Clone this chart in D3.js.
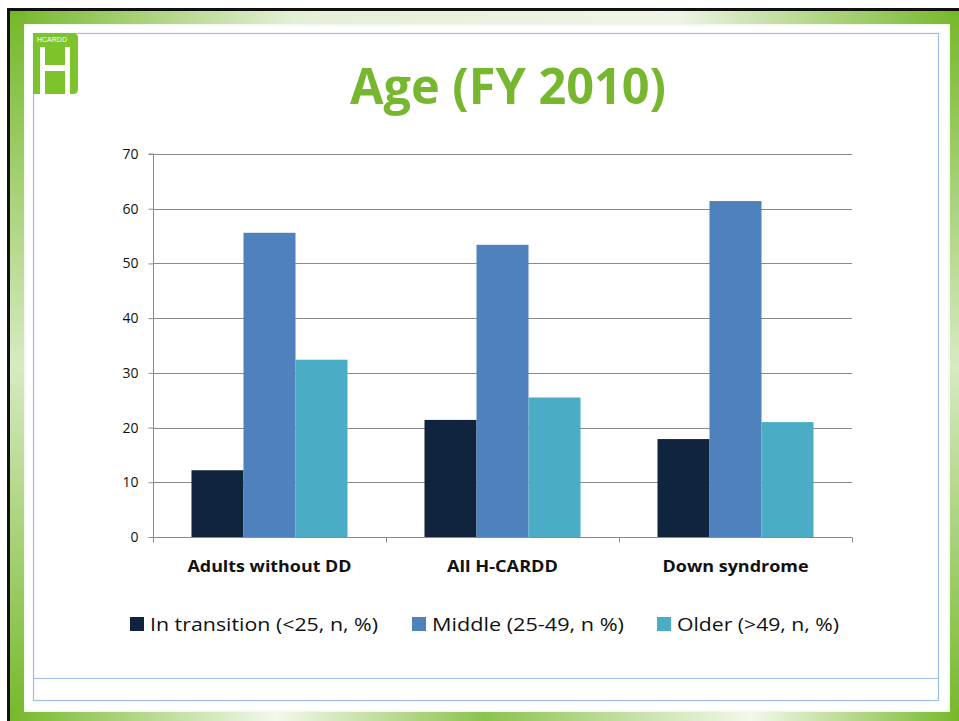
<!DOCTYPE html>
<html>
<head>
<meta charset="utf-8">
<script src="https://cdn.jsdelivr.net/npm/d3@7"></script>
<style>
  body { margin: 0; background: #fff; }
  svg { display: block; font-family: "Open Sans", sans-serif; }
</style>
</head>
<body>
<svg id="chart" width="959" height="721"></svg>
<script>
// chart data
var categories = ["Adults without DD", "All H-CARDD", "Down syndrome"];
var series = ["In transition (<25, n, %)", "Middle (25-49, n %)", "Older (>49, n, %)"];
var transition = [12.2, 21.4, 17.9];
var middle = [55.6, 53.4, 61.4];
var older = [32.4, 25.5, 21.0];
var yTicks = [0, 10, 20, 30, 40, 50, 60, 70];
var colors = ["#10243e", "#4f81bd", "#4bacc6"];

var values = [transition, middle, older];
var rows = categories.map(function(c, i) {
  return { cat: c, vals: series.map(function(s, j) { return { key: s, v: values[j][i] }; }) };
});

var svg = d3.select("#chart");
var defs = svg.append("defs");

// slide frame
var gTop = defs.append("linearGradient").attr("id", "gTop").attr("x1", 0).attr("x2", 1).attr("y1", 0).attr("y2", 0);
gTop.append("stop").attr("offset", "0%").attr("stop-color", "#76b82a");
gTop.append("stop").attr("offset", "30%").attr("stop-color", "#e4f0d6");
gTop.append("stop").attr("offset", "70%").attr("stop-color", "#eef5e6");
gTop.append("stop").attr("offset", "100%").attr("stop-color", "#76b82a");
var gSide = defs.append("linearGradient").attr("id", "gSide").attr("x1", 0).attr("x2", 0).attr("y1", 0).attr("y2", 1);
gSide.append("stop").attr("offset", "0%").attr("stop-color", "#76b82a");
gSide.append("stop").attr("offset", "50%").attr("stop-color", "#d7eac2");
gSide.append("stop").attr("offset", "100%").attr("stop-color", "#76b82a");
var gBot = defs.append("linearGradient").attr("id", "gBot").attr("x1", 0).attr("x2", 1).attr("y1", 0).attr("y2", 0);
gBot.append("stop").attr("offset", "0%").attr("stop-color", "#76b82a");
gBot.append("stop").attr("offset", "28%").attr("stop-color", "#f2f8ec");
gBot.append("stop").attr("offset", "50%").attr("stop-color", "#8cc34d");
gBot.append("stop").attr("offset", "78%").attr("stop-color", "#f2f8ec");
gBot.append("stop").attr("offset", "100%").attr("stop-color", "#76b82a");

svg.append("rect").attr("x", 7).attr("y", 8).attr("width", 952).attr("height", 713).attr("fill", "#111");
svg.append("rect").attr("x", 10).attr("y", 11).attr("width", 949).attr("height", 710).attr("fill", "url(#gTop)");
svg.append("rect").attr("x", 10).attr("y", 11).attr("width", 16).attr("height", 710).attr("fill", "url(#gSide)");
svg.append("rect").attr("x", 948).attr("y", 11).attr("width", 11).attr("height", 710).attr("fill", "url(#gSide)");
svg.append("rect").attr("x", 10).attr("y", 709).attr("width", 949).attr("height", 12).attr("fill", "url(#gBot)");
svg.append("rect").attr("x", 24).attr("y", 24).attr("width", 926).attr("height", 688).attr("fill", "#f4f9ef");
svg.append("rect").attr("x", 26).attr("y", 26).attr("width", 922).attr("height", 684).attr("fill", "#fff");
svg.append("rect").attr("x", 33.5).attr("y", 33.5).attr("width", 905).attr("height", 667)
  .attr("fill", "none").attr("stroke", "#9ebde8").attr("stroke-width", 1.2);
svg.append("line").attr("x1", 33.5).attr("x2", 938.5).attr("y1", 678.5).attr("y2", 678.5)
  .attr("stroke", "#9ebde8").attr("stroke-width", 1.2);

// logo
var logo = svg.append("g").attr("transform", "translate(33,33)");
logo.append("path").attr("d", "M0,0 H40 Q45,0 45,5 V56 Q45,61 40,61 H0 Z").attr("fill", "#7dc42c");
logo.append("text").attr("x", 4).attr("y", 9).attr("font-size", 7).attr("fill", "#fff")
  .attr("font-family", "Liberation Sans, sans-serif").text("HCARDD");
logo.append("rect").attr("x", 7).attr("y", 14).attr("width", 5).attr("height", 47).attr("fill", "#fff");
logo.append("rect").attr("x", 32).attr("y", 14).attr("width", 5).attr("height", 47).attr("fill", "#fff");
logo.append("rect").attr("x", 12).attr("y", 32).attr("width", 20).attr("height", 6).attr("fill", "#fff");

// title
svg.append("text").attr("x", 350).attr("y", 104)
  .attr("font-size", 51).attr("font-weight", 700).attr("fill", "#77b72f")
  .attr("textLength", 316).attr("lengthAdjust", "spacingAndGlyphs")
  .text("Age (FY 2010)");

// scales
var x0 = d3.scaleBand().domain(categories).range([153, 852]).paddingInner(0).paddingOuter(0);
var x1 = d3.scaleBand().domain(series).range([0, x0.bandwidth()]).paddingInner(0).paddingOuter(0.74);
var y = d3.scaleLinear().domain([0, 70]).range([537, 154]);
var color = d3.scaleOrdinal().domain(series).range(colors);

// gridlines
svg.append("g").selectAll("line").data(yTicks.filter(function(d) { return d > 0; })).enter()
  .append("line")
  .attr("x1", 153).attr("x2", 852)
  .attr("y1", function(d) { return Math.round(y(d)) + 0.5; })
  .attr("y2", function(d) { return Math.round(y(d)) + 0.5; })
  .attr("stroke", "#8a8a8a").attr("stroke-width", 1);

// bars
var groups = svg.append("g").selectAll("g").data(rows).enter().append("g")
  .attr("transform", function(d) { return "translate(" + x0(d.cat) + ",0)"; });
groups.selectAll("rect").data(function(d) { return d.vals; }).enter().append("rect")
  .attr("x", function(d) { return x1(d.key); })
  .attr("width", x1.bandwidth())
  .attr("y", function(d) { return y(d.v); })
  .attr("height", function(d) { return y(0) - y(d.v); })
  .attr("fill", function(d) { return color(d.key); });

// y axis
var yAxis = svg.append("g").attr("transform", "translate(153.5,0)")
  .call(d3.axisLeft(y).tickValues(yTicks).tickSize(5).tickPadding(10).tickFormat(d3.format("d")));
yAxis.select(".domain").attr("stroke", "#8a8a8a").attr("d", "M-5," + y(70) + "H0V" + y(0));
yAxis.selectAll(".tick line").attr("stroke", "#8a8a8a");
yAxis.selectAll(".tick text").attr("font-size", 14).attr("fill", "#111").attr("font-family", "Open Sans, sans-serif");

// x axis
var xAxis = svg.append("g").attr("transform", "translate(0," + (Math.round(y(0)) + 0.5) + ")");
xAxis.append("line").attr("x1", 153).attr("x2", 852).attr("stroke", "#8a8a8a");
xAxis.selectAll(".xt").data(categories.concat([null])).enter().append("line")
  .attr("x1", function(d, i) { return Math.round(153 + i * x0.step()) + 0.5; })
  .attr("x2", function(d, i) { return Math.round(153 + i * x0.step()) + 0.5; })
  .attr("y1", 0).attr("y2", 5).attr("stroke", "#8a8a8a");
var catWidths = [164, 111, 146];
svg.append("g").selectAll("text").data(categories).enter().append("text")
  .attr("x", function(d) { return x0(d) + x0.bandwidth() / 2; })
  .attr("y", 572)
  .attr("text-anchor", "middle")
  .attr("font-size", 16).attr("font-weight", 700).attr("fill", "#111")
  .attr("textLength", function(d, i) { return catWidths[i]; })
  .attr("lengthAdjust", "spacingAndGlyphs")
  .text(function(d) { return d; });

// legend
var legendX = [130, 412, 657];
var legendW = [228, 192, 162];
var legend = svg.append("g").selectAll("g").data(series).enter().append("g")
  .attr("transform", function(d, i) { return "translate(" + legendX[i] + ",617)"; });
legend.append("rect").attr("width", 14).attr("height", 14).attr("fill", color);
legend.append("text").attr("x", 20).attr("y", 14)
  .attr("font-size", 19).attr("fill", "#111")
  .attr("textLength", function(d, i) { return legendW[i]; })
  .attr("lengthAdjust", "spacingAndGlyphs")
  .text(function(d) { return d; });
</script>
</body>
</html>
